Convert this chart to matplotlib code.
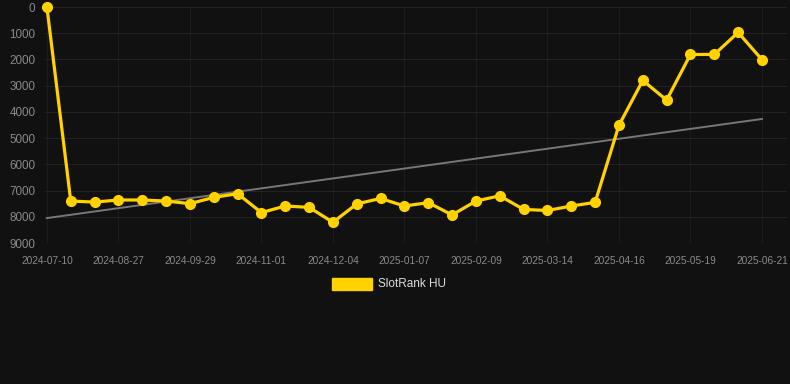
import matplotlib
matplotlib.use("Agg")
import matplotlib.pyplot as plt
import matplotlib.patches as mpatch

plt.rcParams['font.family'] = ['Liberation Sans', 'DejaVu Sans']

# rank values, one point per snapshot (category axis)
ranks = [0, 7400, 7440, 7360, 7360, 7400, 7500, 7260, 7120, 7840, 7590,
         7640, 8210, 7510, 7300, 7590, 7460, 7930, 7400, 7200, 7720,
         7760, 7590, 7450, 4510, 2800, 3550, 1810, 1810, 970, 2010]
tick_labels = ["2024-07-10", "2024-08-27", "2024-09-29", "2024-11-01",
               "2024-12-04", "2025-01-07", "2025-02-09", "2025-03-14",
               "2025-04-16", "2025-05-19", "2025-06-21"]
trend_ends = [8050, 4270]
y_ticks = [0, 1000, 2000, 3000, 4000, 5000, 6000, 7000, 8000, 9000]

bg = "#111111"
yellow = "#FFD200"

fig = plt.figure(figsize=(7.9, 3.84), dpi=100, facecolor=bg)
ax = fig.add_axes([45 / 790, 141 / 384, 742 / 790, 236 / 384])
ax.set_facecolor(bg)

xs = list(range(len(ranks)))
ax.plot([xs[0], xs[-1]], trend_ends, color="#777777", lw=1.4, zorder=2)
ax.plot(xs, ranks, color=yellow, lw=2.3, marker="o", ms=7,
        zorder=3, clip_on=False)

ax.set_xlim(-0.08, 31.05)
ax.set_ylim(9000, 0)
ax.set_yticks(y_ticks)
ax.set_yticklabels([str(v) for v in y_ticks])
ax.set_xticks(xs[::3])
ax.set_xticklabels(tick_labels)

ax.grid(True, axis="y", color="#222222", lw=0.8)
ax.grid(True, axis="x", color="#1c1c1c", lw=0.8)
for s in ax.spines.values():
    s.set_visible(False)
ax.tick_params(axis="y", length=0, pad=7, labelsize=8.4, labelcolor="#8a8a8a")
ax.tick_params(axis="x", length=0, pad=9, labelsize=7.3, labelcolor="#8a8a8a")

# legend
fig.patches.append(mpatch.Rectangle((332 / 790, 1 - 290 / 384), 40 / 790, 12 / 384,
                                    transform=fig.transFigure, color=yellow))
fig.text(378 / 790, 1 - 284 / 384, "SlotRank HU", color="#dddddd",
         fontsize=8.5, va="center", ha="left")

fig.savefig("out.png", dpi=100, facecolor=bg)
